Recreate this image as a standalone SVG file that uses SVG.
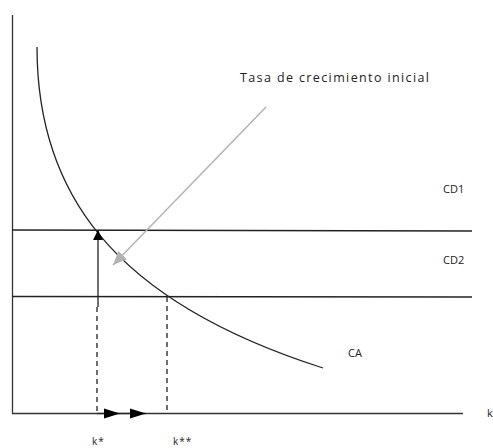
<svg xmlns="http://www.w3.org/2000/svg" width="493" height="448" viewBox="0 0 493 448">
<style>
.ax{stroke:#333;stroke-width:1.3;fill:none}
.ln{stroke:#222;stroke-width:1.3;fill:none}
.dash{stroke:#222;stroke-width:1.3;fill:none;stroke-dasharray:5 4}
.lbl{font-family:"Open Sans","Liberation Sans",Arial,sans-serif;font-size:11px;fill:#222}
.ttl{font-size:12.5px}
.ks{font-size:10px;letter-spacing:1px}
</style>
<defs>
<marker id="ah" viewBox="0 0 10 10" refX="10" refY="5" markerWidth="10" markerHeight="10" markerUnits="userSpaceOnUse" orient="auto">
<path d="M0,0 L10,5 L0,10 Z" fill="#000"/>
</marker>
<marker id="ahh" viewBox="0 0 16 10" refX="16" refY="5" markerWidth="16" markerHeight="11" markerUnits="userSpaceOnUse" orient="auto">
<path d="M0,0 L16,5 L0,10 Z" fill="#000"/>
</marker>
<marker id="ag" viewBox="0 0 14 12" refX="14" refY="6" markerWidth="14" markerHeight="12" markerUnits="userSpaceOnUse" orient="auto">
<path d="M0,0 L14,6 L0,12 Z" fill="#b3b3b3"/>
</marker>
</defs>
<g id="axes">
<line class="ax" x1="12.5" y1="15" x2="12.5" y2="414"/>
<line class="ax" x1="12" y1="413.5" x2="463" y2="413.5"/>
</g>
<g id="CD1">
<line class="ln" x1="12" y1="230" x2="472" y2="231"/>
<text class="lbl" x="443" y="193">CD1</text>
</g>
<g id="CD2">
<line class="ln" x1="12" y1="296.5" x2="472" y2="297"/>
<text class="lbl" x="443" y="264">CD2</text>
</g>
<g id="CA">
<path class="ln" d="M37,47 C37,190 110,300 323,368"/>
<text class="lbl" x="348" y="357">CA</text>
</g>
<g id="connectors">
<line x1="266" y1="107" x2="113" y2="265" stroke="#b3b3b3" stroke-width="1.5" marker-end="url(#ag)"/>
<line class="ln" x1="98" y1="307" x2="98" y2="230" marker-end="url(#ah)"/>
<line class="dash" x1="97" y1="307" x2="97" y2="413"/>
<line class="dash" x1="167" y1="297" x2="167" y2="413"/>
<line class="ln" x1="97" y1="413.5" x2="120" y2="413.5" marker-end="url(#ahh)"/>
<line class="ln" x1="120" y1="413.5" x2="146" y2="413.5" marker-end="url(#ahh)"/>
</g>
<g id="labels">
<text class="lbl ttl" x="240" y="82" textLength="189" lengthAdjust="spacing">Tasa de crecimiento inicial</text>
<text class="lbl ks" x="92" y="445">k*</text>
<text class="lbl ks" x="173" y="445">k**</text>
<text class="lbl" x="487" y="417">k</text>
</g>
</svg>
